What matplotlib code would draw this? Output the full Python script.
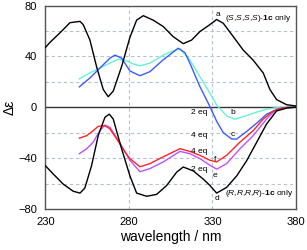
#!/usr/bin/env python3
"""CD spectra of (S,S,S,S)-1c and (R,R,R,R)-1c with added equivalents."""

import matplotlib
matplotlib.use("Agg")
import matplotlib.pyplot as plt

# (S,S,S,S)-1c only  (curve a)
wl_a = [230, 232.7, 238.7, 244.7, 250.7, 252.6, 256.6, 260.6, 264.6, 267.6,
        270.6, 275.6, 280.6, 284.6, 288.6, 294.5, 300.5, 306.5, 312.5, 317.5,
        322.5, 328.5, 332.5, 336.5, 342.5, 348.4, 354.4, 360.4, 364.4, 368.4,
        374.4, 380]
de_a = [47, 51, 58.5, 66.5, 67.5, 65, 53, 32, 14, 8.3,
        12.7, 32, 55, 68.5, 72, 68.5, 63.5, 55.5, 50, 52.8,
        59.5, 65, 69, 66, 55.5, 45, 37, 27, 14, 6, 2, 1]

# 2 eq, S  (curve b)
wl_b = [250.3, 256.6, 262.6, 268.6, 273.6, 278.6, 282.6, 286.6, 292.6, 300.5,
        308.6, 310.5, 316.5, 322.5, 328.5, 332.5, 338.5, 343.4, 350.5, 356.5,
        362.4, 367.5, 372, 380]
de_b = [22.3, 27, 30.8, 34.7, 37.8, 36.5, 34, 32.6, 34.7, 41,
        45.5, 46, 37.2, 24, 11, 1.8, -6.8, -9.4, -6.5, -3.8,
        -1.6, -0.5, 0, 0]

# 4 eq, S  (curve c)
wl_c = [250.3, 256.6, 262.6, 268.6, 271.6, 275.6, 280.6, 286.6, 292.6, 300.5,
        309.5, 313.5, 316.5, 322.5, 328.5, 332.5, 336.5, 341.5, 344.5, 350.5,
        356.5, 362.4, 370, 375, 380]
de_c = [16, 23, 30.8, 38.6, 41, 38.6, 28.5, 24.8, 28, 37.3,
        46.4, 43, 34.6, 16.2, 0.5, -11, -20, -25, -25, -19,
        -12.5, -5.5, -1, 0, 0]

# 4 eq, R  (curve f)
wl_f = [250.3, 254.7, 258.6, 261.6, 265.6, 268.6, 272.6, 277.6, 280.6, 286.6,
        292.6, 300.5, 310.5, 316.5, 322.5, 328.5, 332.5, 338.5, 346.5, 354.4,
        360.4, 366.4, 372, 380]
de_f = [-24.3, -22.3, -18.4, -15, -14.5, -17, -24.8, -35.2, -40.4, -46.8,
        -44.3, -39, -32.6, -34.7, -37.8, -41.7, -43, -37.8, -27.4, -18.4,
        -9.3, -2.9, -0.5, 0]

# 2 eq, R  (curve e)
wl_e = [250.3, 254.7, 258.6, 262.6, 265.6, 268.6, 273.6, 280.6, 286.6, 292.6,
        300.5, 310.5, 316.5, 322.5, 328.5, 332.5, 338.5, 346.5, 354.4, 362.4,
        368.4, 374, 380]
de_e = [-36.5, -32.6, -27.4, -18.4, -14, -15.8, -26, -41.7, -50.7, -48.2,
        -43, -34.7, -36.5, -40.4, -45.6, -48.7, -44.3, -32.6, -22.3, -9.3,
        -1.5, -0.3, 0]

# (R,R,R,R)-1c only  (curve d)
wl_d = [230, 234.7, 240.7, 246.6, 250.7, 253.6, 257.6, 261.6, 265.6, 268.2,
        270.6, 275.6, 280.6, 284.6, 290.6, 296.6, 302.6, 308.6, 312.5, 318.5,
        324.5, 328.5, 332.5, 338.5, 344.5, 350.5, 356.5, 362.4, 368.4, 375, 380]
de_d = [-46, -52.5, -60.5, -66, -67.5, -63.5, -46, -22.3, -8, -5.4,
        -9.3, -32.6, -54, -67.5, -70, -68.5, -61.5, -51, -47, -50,
        -56.5, -61.5, -67.5, -63, -54, -42, -27.5, -13.2, -2.9, -0.5, 0]

curve_colors = {"a": "black", "b": "#66f2d6", "c": "#3a5cff",
                "f": "#ff2424", "e": "#c050ff", "d": "black"}

plt.rcParams["font.family"] = ["Liberation Sans", "DejaVu Sans"]
plt.rcParams["mathtext.fontset"] = "custom"
plt.rcParams["mathtext.rm"] = "Liberation Sans"
plt.rcParams["mathtext.it"] = "Liberation Sans:italic"
plt.rcParams["mathtext.bf"] = "Liberation Sans:bold"

fig = plt.figure(figsize=(3.07, 2.5), dpi=100)
ax = fig.add_axes([0.148, 0.164, 0.816, 0.814])

for x in (280, 330):
    ax.axvline(x, color="#b3c3d0", lw=0.8, ls=(0, (3, 2.5)), zorder=0)
for y in (60, 40, 20, -20, -40, -60):
    ax.axhline(y, color="#b3c3d0", lw=0.8, ls=(0, (3, 2.5)), zorder=0)
ax.axhline(0, color="#333333", lw=1.0, zorder=1)

ax.plot(wl_b, de_b, color=curve_colors["b"], lw=1.0, zorder=2)
ax.plot(wl_c, de_c, color=curve_colors["c"], lw=1.0, zorder=3)
ax.plot(wl_e, de_e, color=curve_colors["e"], lw=1.0, zorder=2)
ax.plot(wl_f, de_f, color=curve_colors["f"], lw=1.0, zorder=3)
ax.plot(wl_a, de_a, color=curve_colors["a"], lw=1.0, zorder=4)
ax.plot(wl_d, de_d, color=curve_colors["d"], lw=1.0, zorder=4)

ax.set_xlim(230, 380)
ax.set_ylim(-80, 80)
ax.set_xticks([230, 280, 330, 380])
ax.set_yticks([80, 40, 0, -40, -80])
ax.tick_params(length=0, labelsize=8, pad=6, colors="black")
for s in ax.spines.values():
    s.set_color("#555555")
    s.set_linewidth(1.0)

ax.set_xlabel("wavelength / nm", fontsize=10, labelpad=2)
ax.set_ylabel("Δε", fontsize=10, labelpad=1)

fs = 6
ax.text(333, 73, "a", fontsize=fs, ha="center", va="center")
ax.text(337.5, 70, r"($\mathit{S}$,$\mathit{S}$,$\mathit{S}$,$\mathit{S}$)-$\mathbf{1c}$ only",
        fontsize=fs, ha="left", va="center")
ax.text(327, -4.5, "2 eq", fontsize=fs, ha="right", va="center")
ax.text(342, -4.5, "b", fontsize=fs, ha="center", va="center")
ax.text(327, -22.5, "4 eq", fontsize=fs, ha="right", va="center")
ax.text(342, -21.5, "c", fontsize=fs, ha="center", va="center")
ax.text(327, -34.5, "4 eq", fontsize=fs, ha="right", va="center")
ax.text(331.5, -41, "f", fontsize=fs, ha="center", va="center")
ax.text(327, -49, "2 eq", fontsize=fs, ha="right", va="center")
ax.text(331.5, -54, "e", fontsize=fs, ha="center", va="center")
ax.text(332.5, -72, "d", fontsize=fs, ha="center", va="center")
ax.text(337.5, -68, r"($\mathit{R}$,$\mathit{R}$,$\mathit{R}$,$\mathit{R}$)-$\mathbf{1c}$ only",
        fontsize=fs, ha="left", va="center")

fig.savefig("out.png", dpi=100)
